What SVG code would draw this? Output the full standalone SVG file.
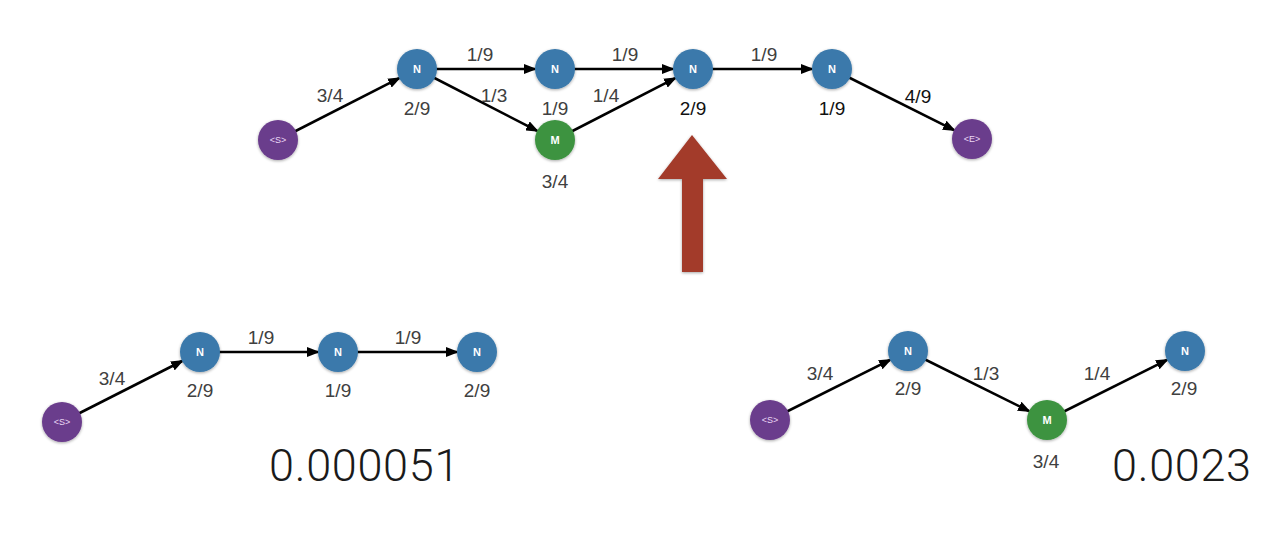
<svg xmlns="http://www.w3.org/2000/svg" width="1286" height="548" viewBox="0 0 1286 548">
<defs>
<marker id="ah" markerUnits="userSpaceOnUse" markerWidth="14" markerHeight="10" refX="11" refY="5" orient="auto">
<path d="M0,0 L13,5 L0,10 z" fill="#000"/>
</marker>
<filter id="sh" x="-30%" y="-30%" width="160%" height="160%">
<feGaussianBlur in="SourceAlpha" stdDeviation="1.5"/>
<feOffset dx="0" dy="1"/>
<feComponentTransfer><feFuncA type="linear" slope="0.35"/></feComponentTransfer>
<feMerge><feMergeNode/><feMergeNode in="SourceGraphic"/></feMerge>
</filter>
</defs>
<style>
.e{stroke:#000;stroke-width:2.6;fill:none;marker-end:url(#ah)}
.n{fill:#3a79ab;filter:url(#sh)}
.m{fill:#3d9340;filter:url(#sh)}
.s{fill:#6b3c8c;filter:url(#sh)}
.nl{font-family:"Liberation Sans",Arial,sans-serif;font-weight:bold;font-size:11px;fill:#fff;text-anchor:middle}
.sl{font-family:"Liberation Sans",Arial,sans-serif;font-size:9px;fill:#ead8f5;text-anchor:middle}
.l{font-family:"Liberation Sans",Arial,sans-serif;font-size:19px;fill:#404040;text-anchor:middle}
.b{font-family:Roboto,"Liberation Sans",Arial,sans-serif;font-weight:300;font-size:45px;letter-spacing:0.7px;fill:#1a1a1a}
</style>
<rect width="1286" height="548" fill="#fff"/>
<g id="connectors">
<line class="e" x1="278" y1="140" x2="399.2" y2="78.1"/>
<line class="e" x1="417" y1="69" x2="535" y2="69"/>
<line class="e" x1="417" y1="69" x2="537.2" y2="130.9"/>
<line class="e" x1="555" y1="69" x2="673" y2="69"/>
<line class="e" x1="555" y1="140" x2="675.2" y2="78.1"/>
<line class="e" x1="693" y1="69" x2="812" y2="69"/>
<line class="e" x1="832" y1="69" x2="954.1" y2="130.1"/>
<line class="e" x1="62" y1="422" x2="182.2" y2="361"/>
<line class="e" x1="200" y1="352" x2="318" y2="352"/>
<line class="e" x1="338" y1="352" x2="457" y2="352"/>
<line class="e" x1="770" y1="420" x2="890.1" y2="359.9"/>
<line class="e" x1="908" y1="351" x2="1029.1" y2="411.1"/>
<line class="e" x1="1047" y1="420" x2="1167.1" y2="359.9"/>
</g>
<g id="edge-labels">
<text class="l" x="330" y="102">3/4</text>
<text class="l" x="480" y="61">1/9</text>
<text class="l" x="494" y="102">1/3</text>
<text class="l" x="606" y="102">1/4</text>
<text class="l" x="625" y="61">1/9</text>
<text class="l" x="764" y="61">1/9</text>
<text class="l" x="918" y="103" style="fill:#111">4/9</text>
<text class="l" x="112" y="385">3/4</text>
<text class="l" x="261" y="344">1/9</text>
<text class="l" x="408" y="344">1/9</text>
<text class="l" x="820" y="380">3/4</text>
<text class="l" x="986" y="380">1/3</text>
<text class="l" x="1097" y="380">1/4</text>
</g>
<g id="top-S"><circle class="s" cx="278" cy="140" r="20"/><text class="sl" x="278" y="143">&lt;S&gt;</text></g>
<g id="top-N1"><circle class="n" cx="417" cy="69" r="20"/><text class="nl" x="417" y="73">N</text><text class="l" x="417" y="115">2/9</text></g>
<g id="top-N2"><circle class="n" cx="555" cy="69" r="20"/><text class="nl" x="555" y="73">N</text><text class="l" x="555" y="115">1/9</text></g>
<g id="top-M"><circle class="m" cx="555" cy="140" r="20"/><text class="nl" x="555" y="144">M</text><text class="l" x="555" y="188">3/4</text></g>
<g id="top-N3"><circle class="n" cx="693" cy="69" r="20"/><text class="nl" x="693" y="73">N</text><text class="l" x="693" y="115" style="fill:#111">2/9</text></g>
<g id="top-N4"><circle class="n" cx="832" cy="69" r="20"/><text class="nl" x="832" y="73">N</text><text class="l" x="832" y="115" style="fill:#111">1/9</text></g>
<g id="top-E"><circle class="s" cx="972" cy="139" r="20"/><text class="sl" x="972" y="142">&lt;E&gt;</text></g>
<g id="red-arrow"><polygon points="692,135 727,179 703,179 703,272 682,272 682,179 658,179" fill="#a33b2b" filter="url(#sh)"/></g>
<g id="bl-S"><circle class="s" cx="62" cy="422" r="20"/><text class="sl" x="62" y="425">&lt;S&gt;</text></g>
<g id="bl-N1"><circle class="n" cx="200" cy="352" r="20"/><text class="nl" x="200" y="356">N</text><text class="l" x="200" y="397">2/9</text></g>
<g id="bl-N2"><circle class="n" cx="338" cy="352" r="20"/><text class="nl" x="338" y="356">N</text><text class="l" x="338" y="397">1/9</text></g>
<g id="bl-N3"><circle class="n" cx="477" cy="352" r="20"/><text class="nl" x="477" y="356">N</text><text class="l" x="477" y="397">2/9</text></g>
<g id="bl-score"><text class="b" x="269" y="481">0.000051</text></g>
<g id="br-S"><circle class="s" cx="770" cy="420" r="20"/><text class="sl" x="770" y="423">&lt;S&gt;</text></g>
<g id="br-N1"><circle class="n" cx="908" cy="351" r="20"/><text class="nl" x="908" y="355">N</text><text class="l" x="908" y="395">2/9</text></g>
<g id="br-M"><circle class="m" cx="1047" cy="420" r="20"/><text class="nl" x="1047" y="424">M</text><text class="l" x="1046" y="468">3/4</text></g>
<g id="br-N2"><circle class="n" cx="1185" cy="351" r="20"/><text class="nl" x="1185" y="355">N</text><text class="l" x="1184" y="395">2/9</text></g>
<g id="br-score"><text class="b" x="1112" y="481">0.0023</text></g>
</svg>
